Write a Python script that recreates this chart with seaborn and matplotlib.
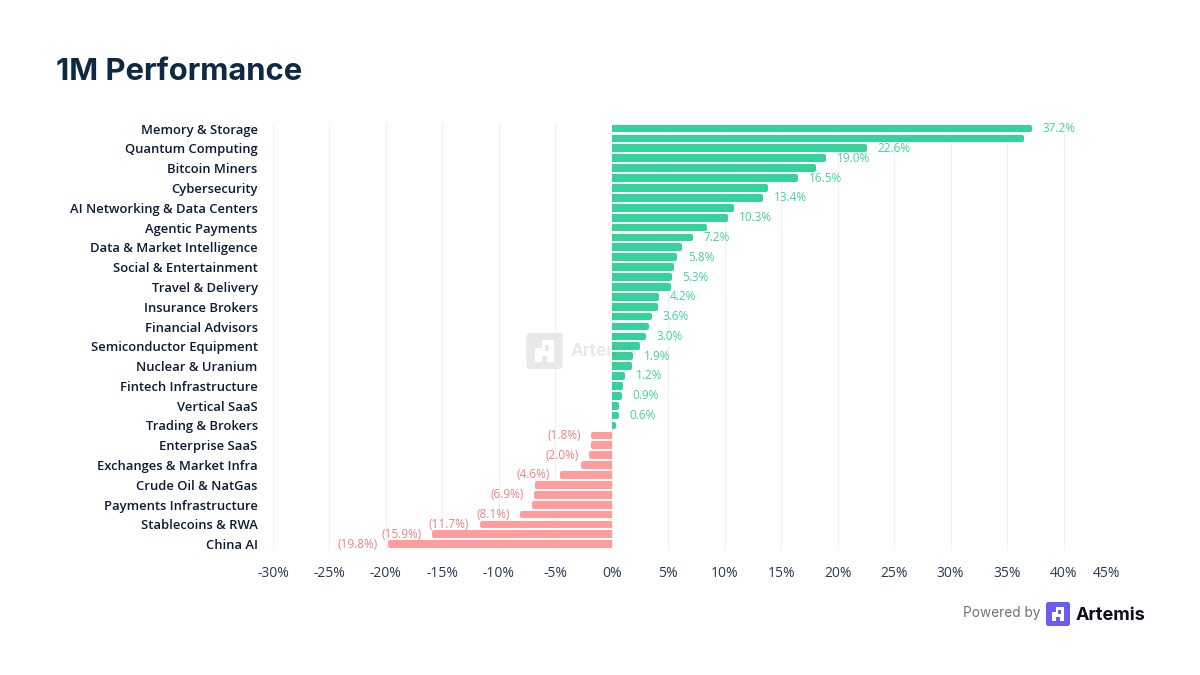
from matplotlib import pyplot as plt
from matplotlib.patches import FancyBboxPatch, Polygon, Rectangle
import pandas as pd
import seaborn as sns

categories = ['Memory & Storage', 'Quantum Computing', 'Bitcoin Miners', 'Cybersecurity',
              'AI Networking & Data Centers', 'Agentic Payments', 'Data & Market Intelligence',
              'Social & Entertainment', 'Travel & Delivery', 'Insurance Brokers',
              'Financial Advisors', 'Semiconductor Equipment', 'Nuclear & Uranium',
              'Fintech Infrastructure', 'Vertical SaaS', 'Trading & Brokers', 'Enterprise SaaS',
              'Exchanges & Market Infra', 'Crude Oil & NatGas', 'Payments Infrastructure',
              'Stablecoins & RWA', 'China AI']
values = [37.2, 36.5, 22.6, 19.0, 18.1, 16.5, 13.8, 13.4, 10.8, 10.3, 8.4, 7.2, 6.2, 5.8, 5.5,
          5.3, 5.2, 4.2, 4.05, 3.6, 3.3, 3.0, 2.5, 1.9, 1.75, 1.2, 1.0, 0.9, 0.6, 0.6, 0.4,
          -1.8, -1.8, -2.0, -2.7, -4.6, -6.8, -6.9, -7.05, -8.1, -11.7, -15.9, -19.8]
labelled_rows = [0, 2, 3, 5, 7, 9, 11, 13, 15, 17, 19, 21, 23, 25, 27, 29, 31, 33, 35, 37, 39, 40, 41, 42]
xticks = [-30, -25, -20, -15, -10, -5, 0, 5, 10, 15, 20, 25, 30, 35, 40, 45]

GREEN = '#35d399'
PINK = '#ff9c9c'
GREEN_TXT = '#3fd3a2'
PINK_TXT = '#f27f80'
NAVY = '#0b1b38'


def logo(fig, x, top, size, bg, fg, z=5):
    # small block "A" mark, drawn in pixels from the top-left corner
    y0 = 675 - top - size
    fig.add_artist(FancyBboxPatch((x, y0), size, size, boxstyle=f'round,pad=0,rounding_size={size * 0.1}',
                                  transform=None, fc=bg, ec='none', zorder=z))
    outer = [(.42, .2), (.76, .2), (.76, .8), (.58, .8), (.58, .64), (.42, .64), (.42, .8),
             (.24, .8), (.24, .42), (.42, .42)]
    hole = [(.5, .34), (.62, .34), (.62, .5), (.5, .5)]
    for pts, col in ((outer, fg), (hole, bg)):
        fig.add_artist(Polygon([(x + a * size, y0 + (1 - b) * size) for a, b in pts], closed=True,
                               transform=None, fc=col, ec='none', zorder=z))


df = pd.DataFrame({'row': range(len(values)), 'value': values})
df['sign'] = ['up' if v >= 0 else 'down' for v in values]

sns.set_style('white')
plt.rcParams['font.family'] = ['Open Sans', 'DejaVu Sans']

f = plt.figure(figsize=(12, 6.75), dpi=100)
ax = f.add_axes([273 / 1200, 1 - 550 / 675, 847 / 1200, 427 / 675])

sns.barplot(data=df, x='value', y='row', hue='sign', orient='h', dodge=False, width=0.38,
            palette={'up': GREEN, 'down': PINK}, legend=False, saturation=1, ax=ax)

ax.set_xlim(-30, 45)
ax.set_ylim(42.58, -0.56)

# rounded bar tips: thick round-joined outline, flat side clipped at zero
px = 75 / 847
for p in ax.patches:
    w = p.get_width()
    if w == 0:
        continue
    sign = 1 if w > 0 else -1
    p.set_width(w - sign * 2 * px)
    p.set_edgecolor(p.get_facecolor())
    p.set_linewidth(2.88)
    p.set_joinstyle('round')
    clip = Rectangle((0, -5) if sign > 0 else (-60, -5), 60, 60, transform=ax.transData)
    p.set_clip_path(clip)

for r in labelled_rows:
    v = values[r]
    if v >= 0:
        ax.annotate(f'{v:.1f}%', (v, r), xytext=(7.5, 0), textcoords='offset points', ha='left',
                    va='center', fontsize=8.5, fontweight='medium', color=GREEN_TXT)
    else:
        ax.annotate(f'({-v:.1f}%)', (v, r), xytext=(-7.5, 0), textcoords='offset points', ha='right',
                    va='center', fontsize=8.5, fontweight='medium', color=PINK_TXT)

ax.set_xticks(xticks)
ax.set_xticklabels([f'{t}%' for t in xticks])
ax.xaxis.get_ticklabels()[-1].set_ha('right')
ax.set_yticks(range(0, len(values), 2))
ax.set_yticklabels(categories)
ax.set_xlabel('')
ax.set_ylabel('')
ax.tick_params(axis='x', length=0, pad=11.5, labelsize=10, labelcolor='#2a3950')
ax.tick_params(axis='y', length=0, pad=11, labelsize=9.4, labelcolor=NAVY)
for t in ax.get_yticklabels():
    t.set_fontweight('semibold')
ax.grid(axis='x', color='#f0f1f3', lw=0.8)
ax.grid(axis='y', visible=False)
ax.set_axisbelow(True)
sns.despine(ax=ax, left=True, bottom=True)

# watermark, faint and over the bars
logo(f, 526.5, 333, 36, '#e8e8e8', '#ffffff', z=5)
f.text(571 / 1200, 1 - 352 / 675, 'Artemis', fontsize=12.7, fontweight='semibold', color='#8a8a8a', alpha=0.2,
       va='center', family='Inter', zorder=6)

f.text(56 / 1200, 1 - 80 / 675, '1M Performance', fontsize=22.3, fontweight='bold', color='#0f2945',
       family='Inter', va='baseline')

# footer logo
f.text(1040 / 1200, 1 - 613 / 675, 'Powered by', fontsize=9.8, color='#6b7280', family='Inter',
       ha='right', va='center')
logo(f, 1046, 602, 24, '#6d5cf0', '#ffffff')
f.text(1076 / 1200, 1 - 615 / 675, 'Artemis', fontsize=13, fontweight='bold', color='#0b0f19',
       family='Inter', va='center')

plt.savefig('out.png', dpi=100)
